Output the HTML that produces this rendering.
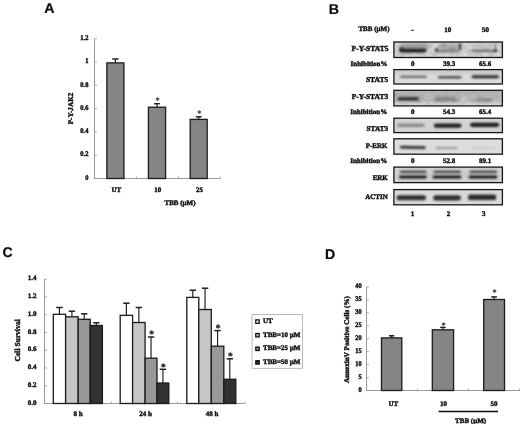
<!DOCTYPE html>
<html>
<head>
<meta charset="utf-8">
<title>Figure</title>
<style>
html, body { margin: 0; padding: 0; background: #ffffff; }
body { width: 520px; height: 424px; overflow: hidden; font-family: "Liberation Serif", serif; }
svg { display: block; }
text { text-rendering: geometricPrecision; }
</style>
</head>
<body>
<svg width="520" height="424" viewBox="0 0 520 424">
<defs>
<filter id="soft" x="0" y="0" width="520" height="424" filterUnits="userSpaceOnUse"><feGaussianBlur stdDeviation="0.35"/></filter>
<filter id="b1" x="-20%" y="-100%" width="140%" height="300%"><feGaussianBlur stdDeviation="0.9"/></filter>
<filter id="b07" x="-20%" y="-100%" width="140%" height="300%"><feGaussianBlur stdDeviation="0.7"/></filter>
<filter id="b12" x="-20%" y="-100%" width="140%" height="300%"><feGaussianBlur stdDeviation="0.95"/></filter>
<filter id="b15" x="-20%" y="-100%" width="140%" height="300%"><feGaussianBlur stdDeviation="1.0"/></filter>
<filter id="noise" x="0" y="0" width="100%" height="100%"><feTurbulence type="fractalNoise" baseFrequency="0.18 0.3" numOctaves="2" seed="7" result="n"/><feColorMatrix type="matrix" values="0 0 0 0 0  0 0 0 0 0  0 0 0 0 0  1.6 0 0 0 -0.25"/><feComposite in2="SourceGraphic" operator="in"/></filter>
<filter id="b2" x="-20%" y="-100%" width="140%" height="300%"><feGaussianBlur stdDeviation="1.4"/></filter>
</defs>
<rect x="0" y="0" width="520" height="424" fill="#ffffff"/>
<g filter="url(#soft)">
<text x="44.2" y="12.9" font-family='"Liberation Sans", sans-serif' font-size="14.2" font-weight="bold" text-anchor="start" fill="#0a0a0a" stroke="#0a0a0a" stroke-width="0.2">A</text>
<line x1="94.5" y1="38.5" x2="94.5" y2="178.5" stroke="#9a9a9a" stroke-width="1"/>
<line x1="94.0" y1="178.5" x2="220.5" y2="178.5" stroke="#9a9a9a" stroke-width="1"/>
<line x1="94.5" y1="178.5" x2="97.0" y2="178.5" stroke="#9a9a9a" stroke-width="0.8"/>
<text x="88.4" y="179.7" font-family='"Liberation Serif", serif' font-size="7.2" font-weight="bold" text-anchor="end" fill="#0a0a0a" transform="translate(88.4 0) scale(0.9 1) translate(-88.4 0)" stroke="#0a0a0a" stroke-width="0.38">0</text>
<line x1="94.5" y1="155.2" x2="97.0" y2="155.2" stroke="#9a9a9a" stroke-width="0.8"/>
<text x="88.4" y="156.39999999999998" font-family='"Liberation Serif", serif' font-size="7.2" font-weight="bold" text-anchor="end" fill="#0a0a0a" transform="translate(88.4 0) scale(0.9 1) translate(-88.4 0)" stroke="#0a0a0a" stroke-width="0.38">0.2</text>
<line x1="94.5" y1="131.9" x2="97.0" y2="131.9" stroke="#9a9a9a" stroke-width="0.8"/>
<text x="88.4" y="133.1" font-family='"Liberation Serif", serif' font-size="7.2" font-weight="bold" text-anchor="end" fill="#0a0a0a" transform="translate(88.4 0) scale(0.9 1) translate(-88.4 0)" stroke="#0a0a0a" stroke-width="0.38">0.4</text>
<line x1="94.5" y1="108.6" x2="97.0" y2="108.6" stroke="#9a9a9a" stroke-width="0.8"/>
<text x="88.4" y="109.8" font-family='"Liberation Serif", serif' font-size="7.2" font-weight="bold" text-anchor="end" fill="#0a0a0a" transform="translate(88.4 0) scale(0.9 1) translate(-88.4 0)" stroke="#0a0a0a" stroke-width="0.38">0.6</text>
<line x1="94.5" y1="85.3" x2="97.0" y2="85.3" stroke="#9a9a9a" stroke-width="0.8"/>
<text x="88.4" y="86.5" font-family='"Liberation Serif", serif' font-size="7.2" font-weight="bold" text-anchor="end" fill="#0a0a0a" transform="translate(88.4 0) scale(0.9 1) translate(-88.4 0)" stroke="#0a0a0a" stroke-width="0.38">0.8</text>
<line x1="94.5" y1="62.0" x2="97.0" y2="62.0" stroke="#9a9a9a" stroke-width="0.8"/>
<text x="88.4" y="63.2" font-family='"Liberation Serif", serif' font-size="7.2" font-weight="bold" text-anchor="end" fill="#0a0a0a" transform="translate(88.4 0) scale(0.9 1) translate(-88.4 0)" stroke="#0a0a0a" stroke-width="0.38">1</text>
<line x1="94.5" y1="38.69999999999999" x2="97.0" y2="38.69999999999999" stroke="#9a9a9a" stroke-width="0.8"/>
<text x="88.4" y="39.89999999999999" font-family='"Liberation Serif", serif' font-size="7.2" font-weight="bold" text-anchor="end" fill="#0a0a0a" transform="translate(88.4 0) scale(0.9 1) translate(-88.4 0)" stroke="#0a0a0a" stroke-width="0.38">1.2</text>
<line x1="136.5" y1="178.5" x2="136.5" y2="176.5" stroke="#9a9a9a" stroke-width="0.8"/>
<line x1="178.5" y1="178.5" x2="178.5" y2="176.5" stroke="#9a9a9a" stroke-width="0.8"/>
<line x1="220.5" y1="178.5" x2="220.5" y2="176.5" stroke="#9a9a9a" stroke-width="0.8"/>
<rect x="106.9" y="62.9" width="17.0" height="115.6" fill="#858585" stroke="#1a1a1a" stroke-width="1.3"/>
<line x1="115.4" y1="62.9" x2="115.4" y2="59" stroke="#1a1a1a" stroke-width="1.15"/>
<line x1="112.2" y1="59" x2="118.60000000000001" y2="59" stroke="#1a1a1a" stroke-width="1.45"/>
<rect x="148.4" y="107.2" width="17.19999999999999" height="71.3" fill="#858585" stroke="#1a1a1a" stroke-width="1.3"/>
<line x1="157.0" y1="107.2" x2="157.0" y2="103.7" stroke="#1a1a1a" stroke-width="1.15"/>
<line x1="154.1" y1="103.7" x2="159.9" y2="103.7" stroke="#1a1a1a" stroke-width="1.45"/>
<text x="157.5" y="103.17473684210526" font-family='"Liberation Serif", serif' font-size="8.2" font-weight="bold" text-anchor="middle" fill="#3a3a3a" stroke="#3a3a3a" stroke-width="0.2">*</text>
<rect x="190.2" y="119.4" width="17.0" height="59.099999999999994" fill="#858585" stroke="#1a1a1a" stroke-width="1.3"/>
<line x1="198.7" y1="119.4" x2="198.7" y2="116.8" stroke="#1a1a1a" stroke-width="1.15"/>
<line x1="195.79999999999998" y1="116.8" x2="201.6" y2="116.8" stroke="#1a1a1a" stroke-width="1.45"/>
<text x="199.2" y="115.97473684210527" font-family='"Liberation Serif", serif' font-size="8.2" font-weight="bold" text-anchor="middle" fill="#3a3a3a" stroke="#3a3a3a" stroke-width="0.2">*</text>
<text x="116.4" y="192.2" font-family='"Liberation Serif", serif' font-size="7" font-weight="bold" text-anchor="middle" fill="#0a0a0a" stroke="#0a0a0a" stroke-width="0.38">UT</text>
<text x="157.8" y="192.2" font-family='"Liberation Serif", serif' font-size="7" font-weight="bold" text-anchor="middle" fill="#0a0a0a" stroke="#0a0a0a" stroke-width="0.38">10</text>
<text x="199.5" y="192.2" font-family='"Liberation Serif", serif' font-size="7" font-weight="bold" text-anchor="middle" fill="#0a0a0a" stroke="#0a0a0a" stroke-width="0.38">25</text>
<text x="180" y="204.6" font-family='"Liberation Serif", serif' font-size="7" font-weight="bold" text-anchor="middle" fill="#0a0a0a" stroke="#0a0a0a" stroke-width="0.38">TBB (µM)</text>
<text x="72.6" y="108.5" font-family='"Liberation Serif", serif' font-size="7.2" font-weight="bold" text-anchor="middle" fill="#0a0a0a" transform="rotate(-90 72.6 108.5)" stroke="#0a0a0a" stroke-width="0.38">P-Y-JAK2</text>
<text x="2.6" y="256.8" font-family='"Liberation Sans", sans-serif' font-size="14" font-weight="bold" text-anchor="start" fill="#0a0a0a" stroke="#0a0a0a" stroke-width="0.2">C</text>
<line x1="44.5" y1="279" x2="44.5" y2="403.5" stroke="#9a9a9a" stroke-width="1"/>
<line x1="44.0" y1="403.5" x2="245" y2="403.5" stroke="#9a9a9a" stroke-width="1"/>
<line x1="44.5" y1="403.5" x2="47.0" y2="403.5" stroke="#9a9a9a" stroke-width="0.8"/>
<text x="36.6" y="404.6" font-family='"Liberation Serif", serif' font-size="7" font-weight="bold" text-anchor="end" fill="#0a0a0a" stroke="#0a0a0a" stroke-width="0.38">0.0</text>
<line x1="44.5" y1="385.74" x2="47.0" y2="385.74" stroke="#9a9a9a" stroke-width="0.8"/>
<text x="36.6" y="386.84000000000003" font-family='"Liberation Serif", serif' font-size="7" font-weight="bold" text-anchor="end" fill="#0a0a0a" stroke="#0a0a0a" stroke-width="0.38">0.2</text>
<line x1="44.5" y1="367.98" x2="47.0" y2="367.98" stroke="#9a9a9a" stroke-width="0.8"/>
<text x="36.6" y="369.08000000000004" font-family='"Liberation Serif", serif' font-size="7" font-weight="bold" text-anchor="end" fill="#0a0a0a" stroke="#0a0a0a" stroke-width="0.38">0.4</text>
<line x1="44.5" y1="350.22" x2="47.0" y2="350.22" stroke="#9a9a9a" stroke-width="0.8"/>
<text x="36.6" y="351.32000000000005" font-family='"Liberation Serif", serif' font-size="7" font-weight="bold" text-anchor="end" fill="#0a0a0a" stroke="#0a0a0a" stroke-width="0.38">0.6</text>
<line x1="44.5" y1="332.46" x2="47.0" y2="332.46" stroke="#9a9a9a" stroke-width="0.8"/>
<text x="36.6" y="333.56" font-family='"Liberation Serif", serif' font-size="7" font-weight="bold" text-anchor="end" fill="#0a0a0a" stroke="#0a0a0a" stroke-width="0.38">0.8</text>
<line x1="44.5" y1="314.7" x2="47.0" y2="314.7" stroke="#9a9a9a" stroke-width="0.8"/>
<text x="36.6" y="315.8" font-family='"Liberation Serif", serif' font-size="7" font-weight="bold" text-anchor="end" fill="#0a0a0a" stroke="#0a0a0a" stroke-width="0.38">1.0</text>
<line x1="44.5" y1="296.94" x2="47.0" y2="296.94" stroke="#9a9a9a" stroke-width="0.8"/>
<text x="36.6" y="298.04" font-family='"Liberation Serif", serif' font-size="7" font-weight="bold" text-anchor="end" fill="#0a0a0a" stroke="#0a0a0a" stroke-width="0.38">1.2</text>
<line x1="44.5" y1="279.18" x2="47.0" y2="279.18" stroke="#9a9a9a" stroke-width="0.8"/>
<text x="36.6" y="280.28000000000003" font-family='"Liberation Serif", serif' font-size="7" font-weight="bold" text-anchor="end" fill="#0a0a0a" stroke="#0a0a0a" stroke-width="0.38">1.4</text>
<line x1="111.5" y1="403.5" x2="111.5" y2="401.5" stroke="#9a9a9a" stroke-width="0.8"/>
<line x1="177.5" y1="403.5" x2="177.5" y2="401.5" stroke="#9a9a9a" stroke-width="0.8"/>
<line x1="245" y1="403.5" x2="245" y2="401.5" stroke="#9a9a9a" stroke-width="0.8"/>
<rect x="53.3" y="314.3" width="12.299999999999997" height="89.19999999999999" fill="#ffffff" stroke="#1a1a1a" stroke-width="1.3"/>
<line x1="59.449999999999996" y1="314.3" x2="59.449999999999996" y2="307.5" stroke="#1a1a1a" stroke-width="1.15"/>
<line x1="56.24999999999999" y1="307.5" x2="62.65" y2="307.5" stroke="#1a1a1a" stroke-width="1.45"/>
<rect x="65.6" y="316.8" width="12.600000000000009" height="86.69999999999999" fill="#c6c6c6" stroke="#1a1a1a" stroke-width="1.3"/>
<line x1="71.9" y1="316.8" x2="71.9" y2="311.2" stroke="#1a1a1a" stroke-width="1.15"/>
<line x1="68.7" y1="311.2" x2="75.10000000000001" y2="311.2" stroke="#1a1a1a" stroke-width="1.45"/>
<rect x="78.2" y="319.3" width="12.0" height="84.19999999999999" fill="#989898" stroke="#1a1a1a" stroke-width="1.3"/>
<line x1="84.2" y1="319.3" x2="84.2" y2="313.8" stroke="#1a1a1a" stroke-width="1.15"/>
<line x1="81.0" y1="313.8" x2="87.4" y2="313.8" stroke="#1a1a1a" stroke-width="1.45"/>
<rect x="90.2" y="325.5" width="12.200000000000003" height="78.0" fill="#333333" stroke="#1a1a1a" stroke-width="1.3"/>
<line x1="96.30000000000001" y1="325.5" x2="96.30000000000001" y2="322.8" stroke="#1a1a1a" stroke-width="1.15"/>
<line x1="93.10000000000001" y1="322.8" x2="99.50000000000001" y2="322.8" stroke="#1a1a1a" stroke-width="1.45"/>
<rect x="120.2" y="315.3" width="12.399999999999991" height="88.19999999999999" fill="#ffffff" stroke="#1a1a1a" stroke-width="1.3"/>
<line x1="126.4" y1="315.3" x2="126.4" y2="303.2" stroke="#1a1a1a" stroke-width="1.15"/>
<line x1="123.2" y1="303.2" x2="129.6" y2="303.2" stroke="#1a1a1a" stroke-width="1.45"/>
<rect x="132.6" y="322.5" width="12.5" height="81.0" fill="#c6c6c6" stroke="#1a1a1a" stroke-width="1.3"/>
<line x1="138.85" y1="322.5" x2="138.85" y2="307.5" stroke="#1a1a1a" stroke-width="1.15"/>
<line x1="135.65" y1="307.5" x2="142.04999999999998" y2="307.5" stroke="#1a1a1a" stroke-width="1.45"/>
<rect x="145.1" y="358.2" width="11.900000000000006" height="45.30000000000001" fill="#989898" stroke="#1a1a1a" stroke-width="1.3"/>
<line x1="151.05" y1="358.2" x2="151.05" y2="337" stroke="#1a1a1a" stroke-width="1.15"/>
<line x1="147.85000000000002" y1="337" x2="154.25" y2="337" stroke="#1a1a1a" stroke-width="1.45"/>
<text x="151.55" y="337.3" font-family='"Liberation Serif", serif' font-size="9.5" font-weight="bold" text-anchor="middle" fill="#2a2a2a" stroke="#2a2a2a" stroke-width="0.35">*</text>
<rect x="157" y="383" width="11.800000000000011" height="20.5" fill="#333333" stroke="#1a1a1a" stroke-width="1.3"/>
<line x1="162.9" y1="383" x2="162.9" y2="369.3" stroke="#1a1a1a" stroke-width="1.15"/>
<line x1="159.70000000000002" y1="369.3" x2="166.1" y2="369.3" stroke="#1a1a1a" stroke-width="1.45"/>
<text x="163.4" y="369.5" font-family='"Liberation Serif", serif' font-size="9.5" font-weight="bold" text-anchor="middle" fill="#2a2a2a" stroke="#2a2a2a" stroke-width="0.35">*</text>
<rect x="186.8" y="297.4" width="12.0" height="106.10000000000002" fill="#ffffff" stroke="#1a1a1a" stroke-width="1.3"/>
<line x1="192.8" y1="297.4" x2="192.8" y2="290.2" stroke="#1a1a1a" stroke-width="1.15"/>
<line x1="189.60000000000002" y1="290.2" x2="196.0" y2="290.2" stroke="#1a1a1a" stroke-width="1.45"/>
<rect x="198.8" y="309.5" width="12.5" height="94.0" fill="#c6c6c6" stroke="#1a1a1a" stroke-width="1.3"/>
<line x1="205.05" y1="309.5" x2="205.05" y2="288.2" stroke="#1a1a1a" stroke-width="1.15"/>
<line x1="201.85000000000002" y1="288.2" x2="208.25" y2="288.2" stroke="#1a1a1a" stroke-width="1.45"/>
<rect x="211.3" y="346.2" width="12.5" height="57.30000000000001" fill="#989898" stroke="#1a1a1a" stroke-width="1.3"/>
<line x1="217.55" y1="346.2" x2="217.55" y2="330.6" stroke="#1a1a1a" stroke-width="1.15"/>
<line x1="214.35000000000002" y1="330.6" x2="220.75" y2="330.6" stroke="#1a1a1a" stroke-width="1.45"/>
<text x="218.05" y="331.3" font-family='"Liberation Serif", serif' font-size="9.5" font-weight="bold" text-anchor="middle" fill="#2a2a2a" stroke="#2a2a2a" stroke-width="0.35">*</text>
<rect x="223.8" y="379.3" width="12.0" height="24.19999999999999" fill="#333333" stroke="#1a1a1a" stroke-width="1.3"/>
<line x1="229.8" y1="379.3" x2="229.8" y2="358.8" stroke="#1a1a1a" stroke-width="1.15"/>
<line x1="226.60000000000002" y1="358.8" x2="233.0" y2="358.8" stroke="#1a1a1a" stroke-width="1.45"/>
<text x="230.3" y="359.3" font-family='"Liberation Serif", serif' font-size="9.5" font-weight="bold" text-anchor="middle" fill="#2a2a2a" stroke="#2a2a2a" stroke-width="0.35">*</text>
<text x="78.2" y="416" font-family='"Liberation Serif", serif' font-size="7" font-weight="bold" text-anchor="middle" fill="#0a0a0a" stroke="#0a0a0a" stroke-width="0.38">8 h</text>
<text x="145.5" y="416" font-family='"Liberation Serif", serif' font-size="7" font-weight="bold" text-anchor="middle" fill="#0a0a0a" stroke="#0a0a0a" stroke-width="0.38">24 h</text>
<text x="212" y="416" font-family='"Liberation Serif", serif' font-size="7" font-weight="bold" text-anchor="middle" fill="#0a0a0a" stroke="#0a0a0a" stroke-width="0.38">48 h</text>
<text x="19.6" y="340.3" font-family='"Liberation Serif", serif' font-size="7.6" font-weight="bold" text-anchor="middle" fill="#0a0a0a" transform="rotate(-90 19.6 340.3)" stroke="#0a0a0a" stroke-width="0.38">Cell Survival</text>
<rect x="252" y="314.5" width="50.5" height="53.8" fill="#fff" stroke="#a8a8a8" stroke-width="0.8"/>
<rect x="255.8" y="319.90000000000003" width="3.4" height="3.4" fill="#ffffff" stroke="#111" stroke-width="1.3"/>
<text x="263" y="323.2" font-family='"Liberation Serif", serif' font-size="7" font-weight="bold" text-anchor="start" fill="#0a0a0a" stroke="#0a0a0a" stroke-width="0.38">UT</text>
<rect x="255.8" y="333.50000000000006" width="3.4" height="3.4" fill="#c6c6c6" stroke="#111" stroke-width="1.3"/>
<text x="263" y="336.8" font-family='"Liberation Serif", serif' font-size="7" font-weight="bold" text-anchor="start" fill="#0a0a0a" stroke="#0a0a0a" stroke-width="0.38">TBB=10 µM</text>
<rect x="255.8" y="347.1" width="3.4" height="3.4" fill="#989898" stroke="#111" stroke-width="1.3"/>
<text x="263" y="350.4" font-family='"Liberation Serif", serif' font-size="7" font-weight="bold" text-anchor="start" fill="#0a0a0a" stroke="#0a0a0a" stroke-width="0.38">TBB=25 µM</text>
<rect x="255.8" y="360.70000000000005" width="3.4" height="3.4" fill="#333333" stroke="#111" stroke-width="1.3"/>
<text x="263" y="364.0" font-family='"Liberation Serif", serif' font-size="7" font-weight="bold" text-anchor="start" fill="#0a0a0a" stroke="#0a0a0a" stroke-width="0.38">TBB=50 µM</text>
<text x="325" y="258.5" font-family='"Liberation Sans", sans-serif' font-size="14.1" font-weight="bold" text-anchor="start" fill="#0a0a0a" stroke="#0a0a0a" stroke-width="0.2">D</text>
<line x1="366.5" y1="287" x2="366.5" y2="390.5" stroke="#9a9a9a" stroke-width="1"/>
<line x1="366.0" y1="390.5" x2="520" y2="390.5" stroke="#9a9a9a" stroke-width="1"/>
<line x1="366.5" y1="390.5" x2="369.0" y2="390.5" stroke="#9a9a9a" stroke-width="0.8"/>
<text x="361.6" y="391.7" font-family='"Liberation Serif", serif' font-size="7.2" font-weight="bold" text-anchor="end" fill="#0a0a0a" transform="translate(361.6 0) scale(0.88 1) translate(-361.6 0)" stroke="#0a0a0a" stroke-width="0.38">0</text>
<line x1="366.5" y1="377.55" x2="369.0" y2="377.55" stroke="#9a9a9a" stroke-width="0.8"/>
<text x="361.6" y="378.75" font-family='"Liberation Serif", serif' font-size="7.2" font-weight="bold" text-anchor="end" fill="#0a0a0a" transform="translate(361.6 0) scale(0.88 1) translate(-361.6 0)" stroke="#0a0a0a" stroke-width="0.38">5</text>
<line x1="366.5" y1="364.6" x2="369.0" y2="364.6" stroke="#9a9a9a" stroke-width="0.8"/>
<text x="361.6" y="365.8" font-family='"Liberation Serif", serif' font-size="7.2" font-weight="bold" text-anchor="end" fill="#0a0a0a" transform="translate(361.6 0) scale(0.88 1) translate(-361.6 0)" stroke="#0a0a0a" stroke-width="0.38">10</text>
<line x1="366.5" y1="351.65" x2="369.0" y2="351.65" stroke="#9a9a9a" stroke-width="0.8"/>
<text x="361.6" y="352.84999999999997" font-family='"Liberation Serif", serif' font-size="7.2" font-weight="bold" text-anchor="end" fill="#0a0a0a" transform="translate(361.6 0) scale(0.88 1) translate(-361.6 0)" stroke="#0a0a0a" stroke-width="0.38">15</text>
<line x1="366.5" y1="338.7" x2="369.0" y2="338.7" stroke="#9a9a9a" stroke-width="0.8"/>
<text x="361.6" y="339.9" font-family='"Liberation Serif", serif' font-size="7.2" font-weight="bold" text-anchor="end" fill="#0a0a0a" transform="translate(361.6 0) scale(0.88 1) translate(-361.6 0)" stroke="#0a0a0a" stroke-width="0.38">20</text>
<line x1="366.5" y1="325.75" x2="369.0" y2="325.75" stroke="#9a9a9a" stroke-width="0.8"/>
<text x="361.6" y="326.95" font-family='"Liberation Serif", serif' font-size="7.2" font-weight="bold" text-anchor="end" fill="#0a0a0a" transform="translate(361.6 0) scale(0.88 1) translate(-361.6 0)" stroke="#0a0a0a" stroke-width="0.38">25</text>
<line x1="366.5" y1="312.8" x2="369.0" y2="312.8" stroke="#9a9a9a" stroke-width="0.8"/>
<text x="361.6" y="314.0" font-family='"Liberation Serif", serif' font-size="7.2" font-weight="bold" text-anchor="end" fill="#0a0a0a" transform="translate(361.6 0) scale(0.88 1) translate(-361.6 0)" stroke="#0a0a0a" stroke-width="0.38">30</text>
<line x1="366.5" y1="299.85" x2="369.0" y2="299.85" stroke="#9a9a9a" stroke-width="0.8"/>
<text x="361.6" y="301.05" font-family='"Liberation Serif", serif' font-size="7.2" font-weight="bold" text-anchor="end" fill="#0a0a0a" transform="translate(361.6 0) scale(0.88 1) translate(-361.6 0)" stroke="#0a0a0a" stroke-width="0.38">35</text>
<line x1="366.5" y1="286.9" x2="369.0" y2="286.9" stroke="#9a9a9a" stroke-width="0.8"/>
<text x="361.6" y="288.09999999999997" font-family='"Liberation Serif", serif' font-size="7.2" font-weight="bold" text-anchor="end" fill="#0a0a0a" transform="translate(361.6 0) scale(0.88 1) translate(-361.6 0)" stroke="#0a0a0a" stroke-width="0.38">40</text>
<line x1="417.5" y1="390.5" x2="417.5" y2="388.5" stroke="#9a9a9a" stroke-width="0.8"/>
<line x1="468.5" y1="390.5" x2="468.5" y2="388.5" stroke="#9a9a9a" stroke-width="0.8"/>
<line x1="519.5" y1="390.5" x2="519.5" y2="388.5" stroke="#9a9a9a" stroke-width="0.8"/>
<rect x="381.5" y="337.9" width="20.30000000000001" height="52.60000000000002" fill="#858585" stroke="#1a1a1a" stroke-width="1.3"/>
<line x1="391.65" y1="337.9" x2="391.65" y2="335.8" stroke="#1a1a1a" stroke-width="1.15"/>
<line x1="389.04999999999995" y1="335.8" x2="394.25" y2="335.8" stroke="#1a1a1a" stroke-width="1.45"/>
<rect x="432.3" y="329.8" width="21.30000000000001" height="60.69999999999999" fill="#858585" stroke="#1a1a1a" stroke-width="1.3"/>
<line x1="442.95000000000005" y1="329.8" x2="442.95000000000005" y2="327.4" stroke="#1a1a1a" stroke-width="1.15"/>
<line x1="440.15000000000003" y1="327.4" x2="445.75000000000006" y2="327.4" stroke="#1a1a1a" stroke-width="1.45"/>
<text x="443.45000000000005" y="327.57473684210527" font-family='"Liberation Serif", serif' font-size="8.2" font-weight="bold" text-anchor="middle" fill="#3a3a3a" stroke="#3a3a3a" stroke-width="0.2">*</text>
<rect x="483.7" y="299.5" width="20.80000000000001" height="91.0" fill="#858585" stroke="#1a1a1a" stroke-width="1.3"/>
<line x1="494.1" y1="299.5" x2="494.1" y2="296.9" stroke="#1a1a1a" stroke-width="1.15"/>
<line x1="491.3" y1="296.9" x2="496.90000000000003" y2="296.9" stroke="#1a1a1a" stroke-width="1.45"/>
<text x="494.6" y="294.77473684210526" font-family='"Liberation Serif", serif' font-size="8.2" font-weight="bold" text-anchor="middle" fill="#3a3a3a" stroke="#3a3a3a" stroke-width="0.2">*</text>
<text x="393.3" y="405.8" font-family='"Liberation Serif", serif' font-size="7" font-weight="bold" text-anchor="middle" fill="#0a0a0a" stroke="#0a0a0a" stroke-width="0.38">UT</text>
<text x="443.6" y="405.8" font-family='"Liberation Serif", serif' font-size="7" font-weight="bold" text-anchor="middle" fill="#0a0a0a" stroke="#0a0a0a" stroke-width="0.38">10</text>
<text x="494" y="405.8" font-family='"Liberation Serif", serif' font-size="7" font-weight="bold" text-anchor="middle" fill="#0a0a0a" stroke="#0a0a0a" stroke-width="0.38">50</text>
<line x1="438.6" y1="411.5" x2="498" y2="411.5" stroke="#111" stroke-width="1.3"/>
<text x="470.6" y="423" font-family='"Liberation Serif", serif' font-size="7" font-weight="bold" text-anchor="middle" fill="#0a0a0a" stroke="#0a0a0a" stroke-width="0.38">TBB (µM)</text>
<text x="348.8" y="339.5" font-family='"Liberation Serif", serif' font-size="7.15" font-weight="bold" text-anchor="middle" fill="#0a0a0a" transform="rotate(-90 348.8 339.5)" stroke="#0a0a0a" stroke-width="0.38">AnnexinV Positive Cells (%)</text>
<text x="328.7" y="14.1" font-family='"Liberation Sans", sans-serif' font-size="14.2" font-weight="bold" text-anchor="start" fill="#0a0a0a" stroke="#0a0a0a" stroke-width="0.2">B</text>
<text x="389.5" y="31.2" font-family='"Liberation Serif", serif' font-size="7" font-weight="bold" text-anchor="end" fill="#0a0a0a" stroke="#0a0a0a" stroke-width="0.38">TBB (µM)</text>
<text x="412.4" y="31.6" font-family='"Liberation Serif", serif' font-size="7" font-weight="bold" text-anchor="middle" fill="#0a0a0a" stroke="#0a0a0a" stroke-width="0.38">-</text>
<text x="447.7" y="31.5" font-family='"Liberation Serif", serif' font-size="7" font-weight="bold" text-anchor="middle" fill="#0a0a0a" stroke="#0a0a0a" stroke-width="0.38">10</text>
<text x="485.4" y="31.5" font-family='"Liberation Serif", serif' font-size="7" font-weight="bold" text-anchor="middle" fill="#0a0a0a" stroke="#0a0a0a" stroke-width="0.38">50</text>
<rect x="393.9" y="42" width="108.5" height="15.5" fill="#e2e2e2"/>
<clipPath id="cp1"><rect x="393.9" y="42" width="108.5" height="15.5"/></clipPath><g clip-path="url(#cp1)">
<rect x="393.9" y="42" width="108.5" height="15.5" fill="#808080" filter="url(#noise)" opacity="0.16"/>
<rect x="400.5" y="43.4" width="28.0" height="6.4" rx="2.2" fill="#9a9a9a" opacity="0.95" filter="url(#b2)"/>
<rect x="399.8" y="48.7" width="26.69999999999999" height="3.8" rx="1.9" fill="#141414" opacity="1" filter="url(#b12)"/>
<ellipse cx="401.5" cy="49.3" rx="2.2" ry="2.4" fill="#2a2a2a" opacity="0.9" filter="url(#b12)"/>
<rect x="437.5" y="43.4" width="25.5" height="8" rx="2.2" fill="#adadad" opacity="0.95" filter="url(#b2)"/>
<ellipse cx="444" cy="45.5" rx="3" ry="1.6" fill="#8c8c8c" opacity="0.8" filter="url(#b12)"/>
<ellipse cx="452" cy="48.6" rx="3.2" ry="1.5" fill="#8a8a8a" opacity="0.8" filter="url(#b12)"/>
<rect x="437" y="49.8" width="22" height="2.4" rx="1.2" fill="#707070" opacity="0.85" filter="url(#b12)"/>
<ellipse cx="436.6" cy="50.3" rx="1.5" ry="1.7" fill="#262626" opacity="0.95" filter="url(#b1)"/>
<ellipse cx="459.8" cy="46.6" rx="1.2" ry="3.8" fill="#3c3c3c" opacity="0.95" filter="url(#b1)"/>
<rect x="472" y="43.699999999999996" width="23" height="5.4" rx="2.2" fill="#c0c0c0" opacity="0.9" filter="url(#b2)"/>
<rect x="471" y="49.65" width="25.5" height="2.3" rx="1.15" fill="#5e5e5e" opacity="0.9" filter="url(#b12)"/>
<ellipse cx="495.6" cy="50.3" rx="1.4" ry="1.6" fill="#242424" opacity="0.95" filter="url(#b1)"/>
<ellipse cx="495.4" cy="46.3" rx="0.9" ry="3.6" fill="#7a7a7a" opacity="0.85" filter="url(#b1)"/>
</g>
<rect x="393.9" y="42" width="108.5" height="15.5" fill="none" stroke="#161616" stroke-width="1.3"/>
<text x="388.6" y="51" font-family='"Liberation Serif", serif' font-size="7.6" font-weight="bold" text-anchor="end" fill="#0a0a0a" stroke="#0a0a0a" stroke-width="0.38">P-Y-STAT5</text>
<text x="387.5" y="66" font-family='"Liberation Serif", serif' font-size="7" font-weight="bold" text-anchor="end" fill="#0a0a0a" stroke="#0a0a0a" stroke-width="0.38">Inhibition%</text>
<text x="412.7" y="65.8" font-family='"Liberation Serif", serif' font-size="7" font-weight="bold" text-anchor="middle" fill="#0a0a0a" stroke="#0a0a0a" stroke-width="0.38">0</text>
<text x="449.2" y="65.8" font-family='"Liberation Serif", serif' font-size="7" font-weight="bold" text-anchor="middle" fill="#0a0a0a" stroke="#0a0a0a" stroke-width="0.38">39.3</text>
<text x="485.2" y="65.8" font-family='"Liberation Serif", serif' font-size="7" font-weight="bold" text-anchor="middle" fill="#0a0a0a" stroke="#0a0a0a" stroke-width="0.38">65.6</text>
<rect x="393.9" y="69.6" width="108.5" height="14.400000000000006" fill="#dadada"/>
<clipPath id="cp2"><rect x="393.9" y="69.6" width="108.5" height="14.400000000000006"/></clipPath><g clip-path="url(#cp2)">
<rect x="393.9" y="69.6" width="108.5" height="3.5" fill="#c4c4c4" filter="url(#b2)"/>
<rect x="400" y="75.8" width="27" height="2.0" rx="1.0" fill="#585858" opacity="1" filter="url(#b1)"/>
<rect x="438" y="76.0" width="23.5" height="2.4" rx="1.2" fill="#4c4c4c" opacity="1" filter="url(#b1)"/>
<rect x="471.5" y="75.25" width="27.5" height="3.1" rx="1.55" fill="#2a2a2a" opacity="1" filter="url(#b1)"/>
</g>
<rect x="393.9" y="69.6" width="108.5" height="14.400000000000006" fill="none" stroke="#161616" stroke-width="1.3"/>
<text x="388.2" y="82.2" font-family='"Liberation Serif", serif' font-size="7.5" font-weight="bold" text-anchor="end" fill="#0a0a0a" stroke="#0a0a0a" stroke-width="0.38">STAT5</text>
<rect x="393.9" y="90.3" width="108.5" height="15.600000000000009" fill="#d2d2d2"/>
<clipPath id="cp3"><rect x="393.9" y="90.3" width="108.5" height="15.600000000000009"/></clipPath><g clip-path="url(#cp3)">
<rect x="393.9" y="90.3" width="108.5" height="15.600000000000009" fill="#707070" filter="url(#noise)" opacity="0.22"/>
<rect x="396" y="90.6" width="104" height="4.8" rx="2.2" fill="#b0b0b0" opacity="0.95" filter="url(#b2)"/>
<rect x="397" y="95.85" width="27" height="5.5" rx="2.2" fill="#a2a2a2" opacity="0.8" filter="url(#b2)"/>
<rect x="397.8" y="97.35000000000001" width="20.69999999999999" height="3.1" rx="1.55" fill="#2c2c2c" opacity="1" filter="url(#b12)"/>
<rect x="434" y="97.1" width="23" height="4.4" rx="2.2" fill="#7a7a7a" opacity="0.9" filter="url(#b2)"/>
<rect x="476" y="98.0" width="16" height="4.0" rx="2.0" fill="#828282" opacity="0.9" filter="url(#b2)"/>
<rect x="393.9" y="103.4" width="108.5" height="3" fill="#e4e4e4" filter="url(#b2)" opacity="0.9"/>
</g>
<rect x="393.9" y="90.3" width="108.5" height="15.600000000000009" fill="none" stroke="#161616" stroke-width="1.3"/>
<text x="388.2" y="99" font-family='"Liberation Serif", serif' font-size="7.5" font-weight="bold" text-anchor="end" fill="#0a0a0a" stroke="#0a0a0a" stroke-width="0.38">P-Y-STAT3</text>
<text x="387.2" y="114.2" font-family='"Liberation Serif", serif' font-size="7" font-weight="bold" text-anchor="end" fill="#0a0a0a" stroke="#0a0a0a" stroke-width="0.38">Inhibition%</text>
<text x="412.7" y="114" font-family='"Liberation Serif", serif' font-size="7" font-weight="bold" text-anchor="middle" fill="#0a0a0a" stroke="#0a0a0a" stroke-width="0.38">0</text>
<text x="449.2" y="114" font-family='"Liberation Serif", serif' font-size="7" font-weight="bold" text-anchor="middle" fill="#0a0a0a" stroke="#0a0a0a" stroke-width="0.38">54.3</text>
<text x="485.2" y="114" font-family='"Liberation Serif", serif' font-size="7" font-weight="bold" text-anchor="middle" fill="#0a0a0a" stroke="#0a0a0a" stroke-width="0.38">65.4</text>
<rect x="393.9" y="118.2" width="108.5" height="14.399999999999991" fill="#d4d4d4"/>
<clipPath id="cp4"><rect x="393.9" y="118.2" width="108.5" height="14.399999999999991"/></clipPath><g clip-path="url(#cp4)">
<rect x="397" y="123.5" width="27.5" height="3.6" rx="1.8" fill="#858585" opacity="0.95" filter="url(#b15)"/>
<rect x="433.8" y="123.55" width="27.69999999999999" height="4.3" rx="2.15" fill="#222222" opacity="1" filter="url(#b1)"/>
<rect x="470" y="122.64999999999999" width="29.30000000000001" height="4.3" rx="2.15" fill="#1e1e1e" opacity="1" filter="url(#b1)"/>
</g>
<rect x="393.9" y="118.2" width="108.5" height="14.399999999999991" fill="none" stroke="#161616" stroke-width="1.3"/>
<text x="388.2" y="130.8" font-family='"Liberation Serif", serif' font-size="7.3" font-weight="bold" text-anchor="end" fill="#0a0a0a" stroke="#0a0a0a" stroke-width="0.38">STAT3</text>
<rect x="393.9" y="138.8" width="108.5" height="15.399999999999977" fill="#dddddd"/>
<clipPath id="cp5"><rect x="393.9" y="138.8" width="108.5" height="15.399999999999977"/></clipPath><g clip-path="url(#cp5)">
<rect x="400" y="146.0" width="25.69999999999999" height="2.8" rx="1.4" fill="#2a2a2a" opacity="1" filter="url(#b1)" transform="rotate(1.2 412.85 147.4)"/>
<rect x="435.8" y="146.9" width="21.69999999999999" height="2.0" rx="1.0" fill="#8e8e8e" opacity="0.9" filter="url(#b1)"/>
<rect x="471" y="147.2" width="24" height="1.6" rx="0.8" fill="#c2c2c2" opacity="0.9" filter="url(#b1)"/>
</g>
<rect x="393.9" y="138.8" width="108.5" height="15.399999999999977" fill="none" stroke="#161616" stroke-width="1.3"/>
<text x="387.5" y="147.5" font-family='"Liberation Serif", serif' font-size="7" font-weight="bold" text-anchor="end" fill="#0a0a0a" stroke="#0a0a0a" stroke-width="0.38">P-ERK</text>
<text x="387.2" y="162.8" font-family='"Liberation Serif", serif' font-size="7" font-weight="bold" text-anchor="end" fill="#0a0a0a" stroke="#0a0a0a" stroke-width="0.38">Inhibition%</text>
<text x="412.7" y="162.6" font-family='"Liberation Serif", serif' font-size="7" font-weight="bold" text-anchor="middle" fill="#0a0a0a" stroke="#0a0a0a" stroke-width="0.38">0</text>
<text x="449.2" y="162.6" font-family='"Liberation Serif", serif' font-size="7" font-weight="bold" text-anchor="middle" fill="#0a0a0a" stroke="#0a0a0a" stroke-width="0.38">52.8</text>
<text x="485.2" y="162.6" font-family='"Liberation Serif", serif' font-size="7" font-weight="bold" text-anchor="middle" fill="#0a0a0a" stroke="#0a0a0a" stroke-width="0.38">89.1</text>
<rect x="393.9" y="167.1" width="108.5" height="15.5" fill="#d3d3d3"/>
<clipPath id="cp6"><rect x="393.9" y="167.1" width="108.5" height="15.5"/></clipPath><g clip-path="url(#cp6)">
<rect x="398" y="171.15" width="100" height="6.5" rx="2.2" fill="#c6c6c6" opacity="0.7" filter="url(#b2)"/>
<rect x="400" y="170.70000000000002" width="26.30000000000001" height="2.4" rx="1.2" fill="#3a3a3a" opacity="1" filter="url(#b1)"/>
<rect x="399" y="175.4" width="27.80000000000001" height="3.0" rx="1.5" fill="#181818" opacity="1" filter="url(#b1)"/>
<rect x="433.5" y="170.70000000000002" width="27.399999999999977" height="2.4" rx="1.2" fill="#3a3a3a" opacity="1" filter="url(#b1)"/>
<rect x="432.5" y="175.4" width="28.899999999999977" height="3.0" rx="1.5" fill="#181818" opacity="1" filter="url(#b1)"/>
<rect x="469.5" y="170.70000000000002" width="27.5" height="2.4" rx="1.2" fill="#3a3a3a" opacity="1" filter="url(#b1)"/>
<rect x="468.5" y="175.4" width="29.0" height="3.0" rx="1.5" fill="#181818" opacity="1" filter="url(#b1)"/>
</g>
<rect x="393.9" y="167.1" width="108.5" height="15.5" fill="none" stroke="#161616" stroke-width="1.3"/>
<text x="387.8" y="180.3" font-family='"Liberation Serif", serif' font-size="7" font-weight="bold" text-anchor="end" fill="#0a0a0a" stroke="#0a0a0a" stroke-width="0.38">ERK</text>
<rect x="393.9" y="189.6" width="108.5" height="15.200000000000017" fill="#dadada"/>
<clipPath id="cp7"><rect x="393.9" y="189.6" width="108.5" height="15.200000000000017"/></clipPath><g clip-path="url(#cp7)">
<rect x="396.7" y="195.2" width="29.30000000000001" height="5.0" rx="2.2" fill="#2e2e2e" opacity="1" filter="url(#b1)"/>
<rect x="433.3" y="195.20000000000002" width="27.5" height="5.2" rx="2.2" fill="#2e2e2e" opacity="1" filter="url(#b1)"/>
<rect x="468" y="194.5" width="28.19999999999999" height="5.6" rx="2.2" fill="#2a2a2a" opacity="1" filter="url(#b1)"/>
</g>
<rect x="393.9" y="189.6" width="108.5" height="15.200000000000017" fill="none" stroke="#161616" stroke-width="1.3"/>
<text x="387.8" y="199.4" font-family='"Liberation Serif", serif' font-size="7" font-weight="bold" text-anchor="end" fill="#0a0a0a" stroke="#0a0a0a" stroke-width="0.38">ACTIN</text>
<text x="412.4" y="215.6" font-family='"Liberation Serif", serif' font-size="7" font-weight="bold" text-anchor="middle" fill="#0a0a0a" stroke="#0a0a0a" stroke-width="0.38">1</text>
<text x="448.4" y="215.6" font-family='"Liberation Serif", serif' font-size="7" font-weight="bold" text-anchor="middle" fill="#0a0a0a" stroke="#0a0a0a" stroke-width="0.38">2</text>
<text x="483.8" y="215.6" font-family='"Liberation Serif", serif' font-size="7" font-weight="bold" text-anchor="middle" fill="#0a0a0a" stroke="#0a0a0a" stroke-width="0.38">3</text>
</g>
</svg>
</body>
</html>
